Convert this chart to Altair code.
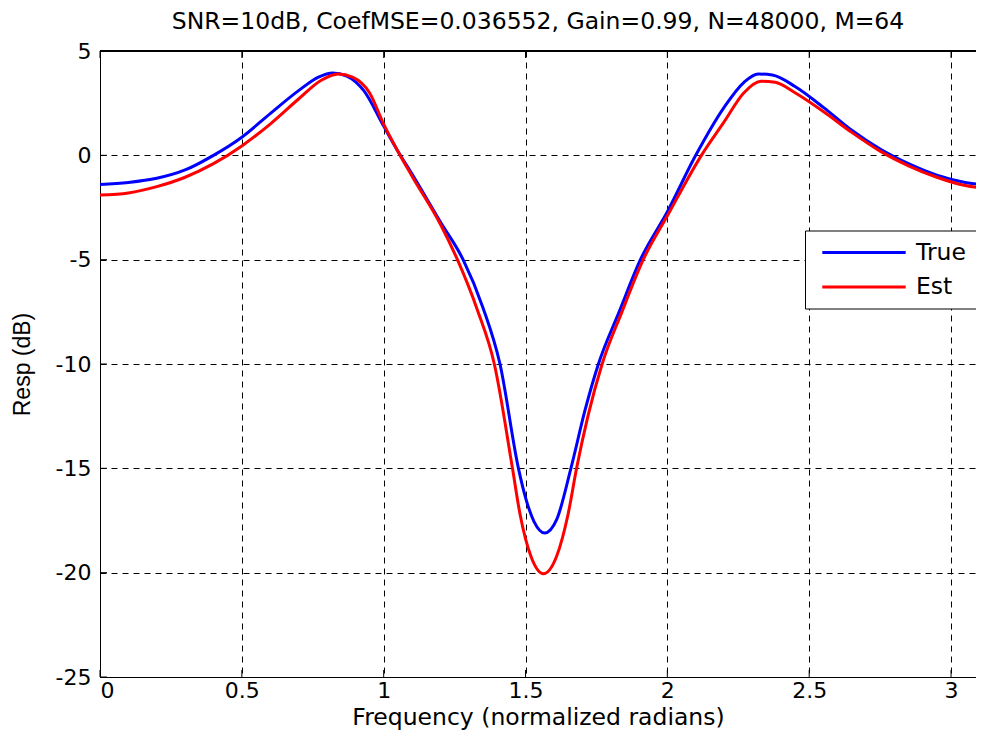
import altair as alt
import pandas as pd

# ---- data ----
true_freq = [0.0, 0.1, 0.2, 0.3, 0.4, 0.5, 0.6, 0.7, 0.77, 0.82, 0.87, 0.93, 1.0, 1.05, 1.1,
             1.2, 1.28, 1.35, 1.41, 1.475, 1.5, 1.53, 1.568, 1.61, 1.66, 1.71, 1.757, 1.83,
             1.905, 2.0, 2.1, 2.2, 2.27, 2.32, 2.37, 2.45, 2.55, 2.65, 2.75, 2.85, 2.95, 3.05, 3.1416]
true_resp = [-1.4, -1.3, -1.1, -0.7, 0.0, 0.87, 2.0, 3.1, 3.75, 3.95, 3.8, 3.1, 1.4, 0.2, -0.9,
             -3.2, -5.0, -7.3, -10.0, -15.0, -16.4, -17.55, -18.1, -17.45, -15.0, -12.2, -10.0, -7.5,
             -5.0, -2.7, 0.0, 2.3, 3.5, 3.9, 3.85, 3.3, 2.3, 1.2, 0.3, -0.4, -0.95, -1.3, -1.45]

est_freq = [0.0, 0.1, 0.2, 0.3, 0.4, 0.5, 0.6, 0.7, 0.78, 0.84, 0.89, 0.95, 1.0, 1.05, 1.1,
            1.2, 1.26, 1.33, 1.39, 1.454, 1.48, 1.52, 1.563, 1.61, 1.65, 1.68, 1.72, 1.77, 1.84,
            1.915, 2.0, 2.12, 2.2, 2.27, 2.33, 2.38, 2.45, 2.55, 2.65, 2.75, 2.85, 2.95, 3.05, 3.1416]
est_resp = [-1.9, -1.8, -1.5, -1.05, -0.4, 0.45, 1.5, 2.7, 3.6, 3.9, 3.75, 3.0, 1.5, 0.2, -1.0,
            -3.3, -5.0, -7.4, -10.0, -15.0, -17.15, -19.25, -20.05, -19.2, -17.2, -15.0, -12.5, -10.0, -7.5,
            -5.0, -2.9, 0.0, 1.6, 3.0, 3.55, 3.5, 3.0, 2.1, 1.1, 0.2, -0.5, -1.05, -1.45, -1.6]

series_names = ["True", "Est"]
series_colors = ["#0000ff", "#ff0000"]
x_ticks = [0, 0.5, 1, 1.5, 2, 2.5, 3]
y_ticks = [-25, -20, -15, -10, -5, 0, 5]
title_text = "SNR=10dB, CoefMSE=0.036552, Gain=0.99, N=48000, M=64"

df = pd.concat([
    pd.DataFrame({"freq": true_freq, "resp": true_resp, "series": "True"}),
    pd.DataFrame({"freq": est_freq, "resp": est_resp, "series": "Est"}),
], ignore_index=True)

W, H = 876, 626
FONT = "DejaVu Sans"
FS = 23.5
TICK_FS = 22

xscale = alt.Scale(domain=[0, 3.088], nice=False, zero=False)
yscale = alt.Scale(domain=[-25, 5], nice=False, zero=False)

lines = alt.Chart(df).mark_line(strokeWidth=3, clip=True, interpolate="monotone",
                                strokeJoin="round").encode(
    x=alt.X("freq:Q", scale=xscale,
            axis=alt.Axis(values=x_ticks, title="Frequency (normalized radians)",
                          labelExpr="'' + datum.value", ticks=False, labelPadding=3,
                          titlePadding=4, grid=True)),
    y=alt.Y("resp:Q", scale=yscale,
            axis=alt.Axis(values=y_ticks, title="Resp (dB)", labelExpr="'' + datum.value",
                          ticks=False, labelPadding=9, titlePadding=21, grid=True,
                          titleFont="Liberation Sans", titleFontSize=23)),
    color=alt.Color("series:N", scale=alt.Scale(domain=series_names, range=series_colors),
                    legend=alt.Legend(title=None, orient="none", legendX=705, legendY=179.5,
                                      symbolType="M-4.07,0L4.07,0", symbolStrokeWidth=3, symbolSize=420,
                                      symbolOffset=37, labelOffset=40,
                                      labelFont=FONT, labelFontSize=FS, labelColor="black",
                                      strokeColor="black", fillColor="white",
                                      padding=10, rowPadding=10.5)),
)

tick_x = pd.DataFrame({"t": x_ticks})
tick_y = pd.DataFrame({"t": y_ticks})
bottom_ticks = alt.Chart(tick_x).mark_rule(color="black", strokeWidth=1).encode(
    x=alt.X("t:Q", scale=xscale), y=alt.value(H), y2=alt.value(H - 7))
top_ticks = alt.Chart(tick_x).mark_rule(color="black", strokeWidth=1).encode(
    x=alt.X("t:Q", scale=xscale), y=alt.value(0), y2=alt.value(7))
left_ticks = alt.Chart(tick_y).mark_rule(color="black", strokeWidth=1).encode(
    y=alt.Y("t:Q", scale=yscale), x=alt.value(0), x2=alt.value(7))
top_line = alt.Chart(tick_x).mark_rule(color="black", strokeWidth=1).encode(
    x=alt.value(0), x2=alt.value(W), y=alt.value(0))

chart = alt.layer(lines, bottom_ticks, top_ticks, left_ticks, top_line).properties(
    width=W, height=H, background="white",
    title=alt.TitleParams(title_text, font=FONT, fontSize=FS, fontWeight="normal",
                          color="black", anchor="middle", offset=7),
    autosize=alt.AutoSizeParams(type="none"),
    padding={"left": 92, "top": 43, "right": 0, "bottom": 54},
).configure_view(stroke=None).configure_axis(
    labelFont=FONT, labelFontSize=TICK_FS, labelColor="black", titleFont=FONT, titleFontSize=FS,
    titleColor="black", titleFontWeight="normal", domainColor="black", domainWidth=1,
    gridColor="black", gridDash=[6, 5], gridWidth=1, gridOpacity=1,
)

chart.save("out.html", embed_options={"renderer": "svg", "actions": False})
